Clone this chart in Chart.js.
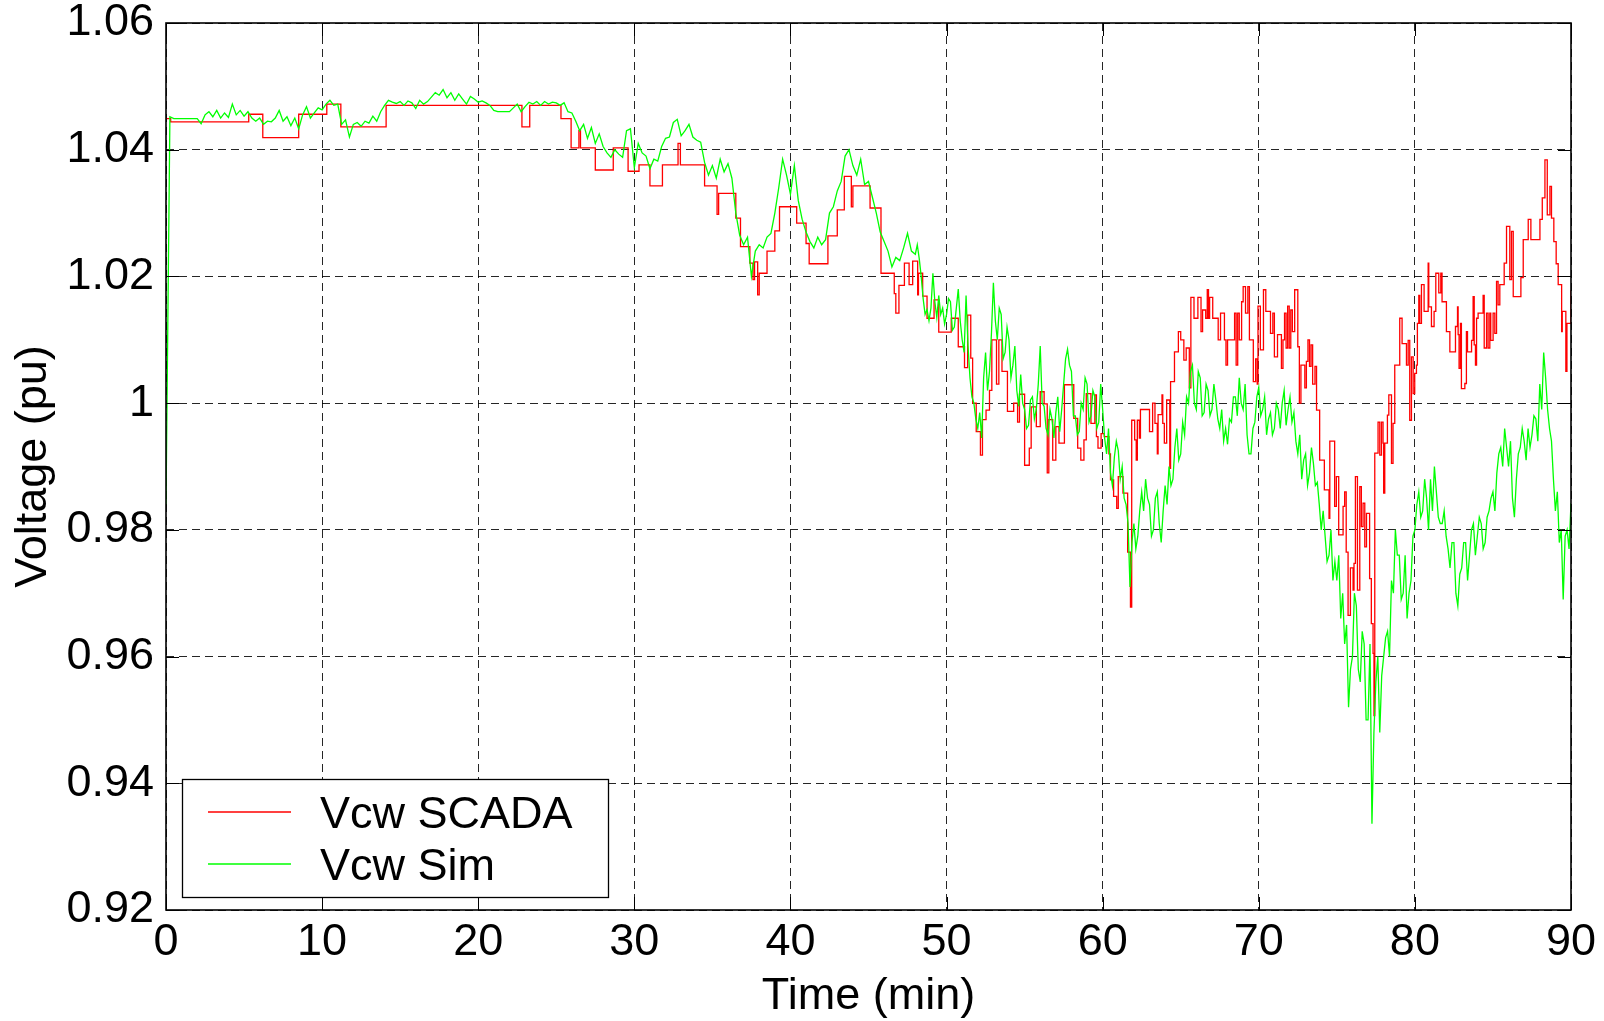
<!DOCTYPE html>
<html>
<head>
<meta charset="utf-8">
<title>Vcw SCADA vs Sim</title>
<script src="https://cdn.jsdelivr.net/npm/chart.js@4.4.0/dist/chart.umd.min.js"></script>
<style>
  html, body { margin: 0; padding: 0; background: #fff; }
  #wrap { width: 1604px; height: 1021px; }
</style>
</head>
<body>
<div id="wrap"><canvas id="voltChart" width="1604" height="1021"></canvas></div>
<script>
// axis ticks
const xTickValues = [0, 10, 20, 30, 40, 50, 60, 70, 80, 90];
const xTickLabels = ['0', '10', '20', '30', '40', '50', '60', '70', '80', '90'];
const yTickValues = [0.92, 0.94, 0.96, 0.98, 1.00, 1.02, 1.04, 1.06];
const yTickLabels = ['0.92', '0.94', '0.96', '0.98', '1', '1.02', '1.04', '1.06'];

const seriesNames = ['Vcw SCADA', 'Vcw Sim'];
const seriesColors = ['#ff0000', '#00ff00'];

// SCADA record: each value is held until the next time stamp (min)
const scadaTime = [
  0, 0.3, 5.3, 6.2, 8.5, 10.3, 11.2, 14.1, 22.8, 23.3, 25.3, 25.95, 26.45, 26.55, 27.5, 28.65, 29.6,
  30.3, 31.0, 31.8, 32.8, 32.95, 34.5, 35.3, 35.4, 36.5, 36.8, 37.4, 37.6, 37.7, 37.9, 38.0, 38.5,
  39.0, 39.3, 40.4, 41.0, 41.2, 42.4, 43.0, 43.45, 43.9, 44.0, 45.1, 45.8, 46.65, 46.75, 46.95,
  47.3, 47.6, 47.83, 48.15, 48.2, 48.47, 48.75, 49.2, 49.5, 50.3, 50.75, 51.15, 51.35, 51.55, 51.67,
  51.9, 52.17, 52.3, 52.53, 52.75, 52.9, 53.2, 53.35, 53.55, 53.9, 54.3, 54.55, 54.67, 55.0, 55.3,
  55.42, 55.75, 56.0, 56.25, 56.45, 56.55, 56.8, 57.0, 57.2, 57.55, 58.15, 58.4, 58.6, 58.8, 58.95,
  59.25, 59.5, 59.6, 59.7, 59.9, 60.1, 60.4, 60.5, 60.7, 60.9, 61.0, 61.3, 61.6, 61.78, 61.86,
  62.05, 62.15, 62.22, 62.35, 62.42, 63.0, 63.2, 63.35, 63.5, 63.55, 63.8, 63.85, 63.95, 64.1, 64.3,
  64.35, 64.6, 64.85, 65.0, 65.2, 65.35, 65.55, 65.65, 65.85, 66.1, 66.3, 66.4, 66.6, 66.7, 66.78,
  66.85, 67.05, 67.4, 67.55, 67.8, 67.9, 68.0, 68.45, 68.55, 68.65, 68.75, 68.9, 69.0, 69.15, 69.3,
  69.4, 69.65, 69.8, 69.9, 69.95, 70.1, 70.3, 70.45, 70.75, 70.9, 71.0, 71.2, 71.45, 71.55, 71.65,
  71.75, 71.85, 71.95, 72.05, 72.15, 72.3, 72.5, 72.6, 72.7, 72.95, 73.05, 73.15, 73.25, 73.35,
  73.45, 73.6, 73.7, 73.9, 74.2, 74.5, 74.55, 74.86, 74.97, 75.12, 75.4, 75.5, 75.6, 75.72, 75.87,
  76.04, 76.1, 76.19, 76.32, 76.47, 76.57, 76.68, 76.79, 76.9, 77.1, 77.21, 77.32, 77.38, 77.43,
  77.64, 77.75, 77.86, 77.96, 78.0, 78.07, 78.24, 78.33, 78.5, 78.6, 78.71, 79.03, 79.18, 79.46,
  79.57, 79.67, 79.78, 79.89, 79.99, 80.1, 80.16, 80.25, 80.31, 80.42, 80.59, 80.85, 80.89, 81.06,
  81.23, 81.34, 81.53, 81.66, 81.74, 82.02, 82.24, 82.6, 82.73, 82.77, 82.83, 82.92, 82.98, 83.2,
  83.3, 83.37, 83.63, 83.73, 83.8, 83.88, 83.95, 84.05, 84.37, 84.44, 84.59, 84.69, 84.8, 84.86,
  85.01, 85.12, 85.23, 85.33, 85.44, 85.72, 85.87, 86.08, 86.19, 86.3, 86.79, 86.94, 87.26, 87.43,
  88.01, 88.16, 88.33, 88.48, 88.65, 88.75, 88.9, 89.05, 89.18, 89.4, 89.44, 89.67, 89.74, 90.0
];
const scadaVolt = [
  1.0449, 1.0444, 1.0456, 1.0419, 1.0456, 1.0472, 1.0436, 1.0470, 1.0436, 1.0470, 1.0449, 1.0403, 1.0430, 1.0403, 1.0368, 1.0403, 1.0366,
  1.0376, 1.0343, 1.0376, 1.0410, 1.0376, 1.0343, 1.0298, 1.0331, 1.0292, 1.0247, 1.0221, 1.0195, 1.0223, 1.0171, 1.0205, 1.0240,
  1.0272, 1.0310, 1.0284, 1.0252, 1.0220, 1.0264, 1.0305, 1.0358, 1.0310, 1.0343, 1.0308, 1.0205, 1.0173, 1.0142, 1.0186,
  1.0221, 1.0187, 1.0224, 1.0171, 1.0205, 1.0169, 1.0134, 1.0163, 1.0112, 1.0134, 1.0089, 1.0056, 1.0139, 1.0071, 1.0000,
  0.9955, 0.9918, 0.9974, 0.9989, 1.0020, 1.0100, 1.0030, 1.0100, 1.0050, 0.9987, 1.0000, 0.9970, 1.0014, 0.9902, 0.9929,
  0.9994, 0.9963, 1.0018, 0.9999, 0.9890, 0.9974, 0.9910, 0.9963, 0.9937, 1.0029, 0.9976, 0.9929, 0.9910, 0.9942, 1.0015,
  0.9968, 1.0013, 0.9947, 0.9929, 0.9952, 0.9947, 0.9920, 0.9879, 0.9853, 0.9834, 0.9884, 0.9858, 0.9765, 0.9678, 0.9973,
  0.9942, 0.9910, 0.9973, 0.9945, 0.9990, 0.9955, 1.0000, 0.9968, 0.9920, 0.9982, 1.0013, 0.9968, 0.9937, 1.0005, 0.9897,
  1.0034, 1.0081, 1.0113, 1.0100, 1.0068, 1.0087, 1.0024, 1.0167, 1.0134, 1.0167, 1.0113, 1.0147, 1.0134, 1.0179, 1.0134,
  1.0167, 1.0134, 1.0100, 1.0142, 1.0100, 1.0060, 1.0100, 1.0142, 1.0060, 1.0142, 1.0100, 1.0160, 1.0184, 1.0142, 1.0184,
  1.0100, 1.0034, 1.0070, 1.0030, 1.0153, 1.0084, 1.0179, 1.0145, 1.0110, 1.0142, 1.0073, 1.0108, 1.0055, 1.0100, 1.0142,
  1.0087, 1.0153, 1.0087, 1.0147, 1.0113, 1.0179, 1.0089, 1.0000, 1.0060, 1.0024, 1.0066, 1.0100, 1.0058, 1.0092,
  1.0030, 1.0058, 0.9989, 0.9910, 0.9863, 0.9818, 0.9940, 0.9837, 0.9884, 0.9792, 0.9837, 0.9860, 0.9765, 0.9665, 0.9740,
  0.9705, 0.9747, 0.9884, 0.9705, 0.9868, 0.9805, 0.9842, 0.9773, 0.9826, 0.9723, 0.9652, 0.9605, 0.9507, 0.9921,
  0.9970, 0.9918, 0.9970, 0.9937, 0.9858, 0.9937, 0.9981, 1.0013, 0.9905, 0.9968, 1.0060, 1.0134, 1.0094, 1.0060,
  1.0099, 0.9973, 1.0073, 1.0015, 1.0047, 1.0060, 1.0126, 1.0170, 1.0126, 1.0187, 1.0145, 1.0221, 1.0152, 1.0121,
  1.0145, 1.0205, 1.0174, 1.0205, 1.0160, 1.0113, 1.0081, 1.0121, 1.0152, 1.0108, 1.0055, 1.0126, 1.0023, 1.0031,
  1.0113, 1.0081, 1.0099, 1.0168, 1.0092, 1.0060, 1.0134, 1.0142, 1.0170, 1.0087, 1.0142, 1.0087, 1.0142, 1.0099,
  1.0142, 1.0110, 1.0192, 1.0155, 1.0187, 1.0221, 1.0279, 1.0195, 1.0271, 1.0168, 1.0198, 1.0258, 1.0290, 1.0258,
  1.0290, 1.0324, 1.0384, 1.0297, 1.0342, 1.0292, 1.0255, 1.0220, 1.0187, 1.0113, 1.0145, 1.0050, 1.0126, 1.0178
];

// simulation output, part 1: one sample every 0.25 min from t = 0 (4 per row = 1 min)
const simStartA = 0;
const simStepA = 0.25;
const simVoltA = [
  0.9840, 1.0452, 1.0449, 1.0449,   1.0449, 1.0449, 1.0449, 1.0449,
  1.0449, 1.0441, 1.0455, 1.0460,   1.0452, 1.0462, 1.0450, 1.0458,
  1.0451, 1.0472, 1.0455, 1.0462,   1.0453, 1.0460, 1.0450, 1.0445,
  1.0450, 1.0440, 1.0445, 1.0444,   1.0450, 1.0462, 1.0445, 1.0452,
  1.0438, 1.0450, 1.0433, 1.0455,   1.0468, 1.0450, 1.0458, 1.0466,
  1.0463, 1.0472, 1.0478, 1.0470,   1.0472, 1.0440, 1.0447, 1.0420,
  1.0440, 1.0443, 1.0437, 1.0445,   1.0442, 1.0453, 1.0445, 1.0460,
  1.0470, 1.0478, 1.0475, 1.0473,   1.0476, 1.0470, 1.0477, 1.0474,
  1.0465, 1.0478, 1.0472, 1.0476,   1.0483, 1.0490, 1.0486, 1.0495,
  1.0482, 1.0490, 1.0478, 1.0488,   1.0480, 1.0472, 1.0484, 1.0480,
  1.0475, 1.0477, 1.0474, 1.0470,   1.0462, 1.0460, 1.0460, 1.0460,
  1.0460, 1.0466, 1.0472, 1.0460,   1.0468, 1.0475, 1.0472, 1.0476,
  1.0470, 1.0476, 1.0472, 1.0475,   1.0474, 1.0470, 1.0474, 1.0460,
  1.0458, 1.0445, 1.0430, 1.0440,   1.0418, 1.0435, 1.0410, 1.0425,
  1.0405, 1.0395, 1.0388, 1.0400,   1.0393, 1.0388, 1.0430, 1.0433,
  1.0372, 1.0410, 1.0395, 1.0390,   1.0370, 1.0385, 1.0382, 1.0405,
  1.0418, 1.0420, 1.0443, 1.0448,   1.0422, 1.0430, 1.0440, 1.0420,
  1.0415, 1.0412, 1.0380, 1.0360,   1.0375, 1.0355, 1.0385, 1.0365,
  1.0378, 1.0355, 1.0300, 1.0265,   1.0250, 1.0262, 1.0200, 1.0240,
  1.0250, 1.0245, 1.0262, 1.0268,   1.0300, 1.0340, 1.0385, 1.0360,
  1.0330, 1.0375, 1.0320, 1.0290,   1.0270, 1.0255, 1.0245, 1.0262,
  1.0250, 1.0258, 1.0300, 1.0310,   1.0335, 1.0350, 1.0390, 1.0400,
  1.0375, 1.0360, 1.0385, 1.0345,   1.0350, 1.0325, 1.0300, 1.0270,
  1.0255, 1.0240, 1.0215, 1.0230,   1.0225, 1.0245, 1.0268, 1.0240
];

// simulation output, part 2: one sample every 0.125 min from t = 48 (8 per row = 1 min)
const simStartB = 48;
const simStepB = 0.125;
const simVoltB = [
  1.0235, 1.0250, 1.0228, 1.0200, 1.0165, 1.0140, 1.0148, 1.0130,
  1.0150, 1.0205, 1.0160, 1.0135, 1.0170, 1.0140, 1.0150, 1.0125,
  1.0140, 1.0165, 1.0160, 1.0115, 1.0120, 1.0150, 1.0180, 1.0130,
  1.0100, 1.0080, 1.0170, 1.0090, 1.0040, 1.0010, 1.0000, 0.9975,
  0.9960, 0.9985, 0.9945, 1.0040, 1.0080, 1.0020, 1.0050, 1.0110,
  1.0190, 1.0130, 1.0100, 1.0150, 1.0140, 1.0070, 1.0080, 1.0120,
  1.0100, 1.0040, 1.0060, 1.0090, 1.0020, 0.9995, 1.0045, 1.0000,
  0.9990, 0.9960, 0.9965, 1.0005, 1.0010, 0.9975, 0.9990, 1.0030,
  1.0090, 1.0000, 0.9995, 0.9960, 0.9950, 0.9990, 0.9975, 0.9945,
  0.9985, 1.0010, 0.9955, 0.9990, 1.0030, 1.0070, 1.0085, 1.0060,
  1.0050, 0.9980, 0.9980, 0.9950, 0.9955, 1.0000, 0.9990, 1.0040,
  1.0030, 0.9970, 0.9980, 1.0020, 1.0010, 0.9960, 0.9970, 1.0030,
  0.9990, 0.9945, 0.9920, 0.9960, 0.9890, 0.9870, 0.9915, 0.9940,
  0.9925, 0.9880, 0.9900, 0.9850, 0.9840, 0.9810, 0.9710, 0.9780,
  0.9810, 0.9770, 0.9790, 0.9830, 0.9860, 0.9830, 0.9880, 0.9850,
  0.9840, 0.9790, 0.9800, 0.9850, 0.9860, 0.9810, 0.9780, 0.9830,
  0.9870, 0.9840, 0.9900, 0.9870, 0.9880, 0.9930, 0.9960, 0.9910,
  0.9920, 0.9970, 0.9950, 1.0010, 1.0000, 1.0050, 1.0060, 1.0000,
  0.9990, 1.0050, 1.0040, 0.9980, 0.9985, 1.0030, 1.0020, 0.9980,
  0.9990, 1.0030, 1.0005, 0.9975, 0.9960, 0.9990, 0.9940, 0.9960,
  0.9935, 0.9975, 0.9970, 1.0010, 1.0010, 0.9980, 1.0040, 1.0000,
  0.9990, 1.0030, 0.9950, 0.9920, 0.9920, 0.9960, 0.9970, 1.0010,
  1.0025, 0.9980, 0.9990, 1.0010, 0.9950, 0.9975, 0.9985, 0.9950,
  0.9960, 1.0000, 0.9990, 0.9960, 1.0000, 1.0020, 0.9965, 0.9990,
  1.0010, 0.9970, 0.9985, 0.9940, 0.9920, 0.9950, 0.9880, 0.9910,
  0.9920, 0.9870, 0.9890, 0.9930, 0.9905, 0.9870, 0.9875, 0.9840,
  0.9800, 0.9830, 0.9790, 0.9750, 0.9760, 0.9800, 0.9720, 0.9750,
  0.9720, 0.9760, 0.9660, 0.9700, 0.9620, 0.9650, 0.9520, 0.9580,
  0.9600, 0.9700, 0.9680, 0.9580, 0.9560, 0.9640, 0.9620, 0.9500,
  0.9500, 0.9620, 0.9336, 0.9480, 0.9560, 0.9600, 0.9480, 0.9570,
  0.9600, 0.9630, 0.9640, 0.9600, 0.9720, 0.9700, 0.9800, 0.9760,
  0.9760, 0.9690, 0.9700, 0.9760, 0.9660, 0.9700, 0.9720, 0.9790,
  0.9800, 0.9840, 0.9860, 0.9820, 0.9830, 0.9880, 0.9850, 0.9800,
  0.9880, 0.9830, 0.9900, 0.9860, 0.9820, 0.9810, 0.9810, 0.9830,
  0.9790, 0.9770, 0.9740, 0.9780, 0.9780, 0.9700, 0.9680, 0.9730,
  0.9740, 0.9780, 0.9780, 0.9720, 0.9760, 0.9800, 0.9810, 0.9760,
  0.9790, 0.9820, 0.9810, 0.9770, 0.9780, 0.9820, 0.9830, 0.9850,
  0.9860, 0.9830, 0.9890, 0.9920, 0.9930, 0.9900, 0.9960, 0.9930,
  0.9900, 0.9940, 0.9850, 0.9820, 0.9880, 0.9920, 0.9930, 0.9960,
  0.9940, 0.9910, 0.9960, 0.9930, 0.9950, 0.9980, 0.9975, 0.9940,
  1.0030, 0.9990, 1.0080, 1.0040, 0.9990, 0.9960, 0.9940, 0.9880,
  0.9830, 0.9860, 0.9780, 0.9800, 0.9690, 0.9790, 0.9800, 0.9770,
  0.9842
];

const FONT = "'Liberation Sans', Arial, Helvetica, sans-serif";

// MATLAB-style box, inward ticks and the legend box in the lower left
const matlabFrame = {
  id: 'matlabFrame',
  afterDatasetsDraw(chart) {
    const { ctx, chartArea: a, scales } = chart;
    const tl = 13;
    ctx.save();
    ctx.strokeStyle = '#000';
    ctx.lineWidth = 1;
    ctx.beginPath();
    xTickValues.forEach(v => {
      const px = Math.round(scales.x.getPixelForValue(v)) + 0.5;
      ctx.moveTo(px, a.bottom); ctx.lineTo(px, a.bottom - tl);
      ctx.moveTo(px, a.top); ctx.lineTo(px, a.top + tl);
    });
    yTickValues.forEach(v => {
      const py = Math.round(scales.y.getPixelForValue(v)) + 0.5;
      ctx.moveTo(a.left, py); ctx.lineTo(a.left + tl, py);
      ctx.moveTo(a.right, py); ctx.lineTo(a.right - tl, py);
    });
    ctx.stroke();
    ctx.lineWidth = 1.6;
    ctx.strokeRect(a.left, a.top, a.right - a.left, a.bottom - a.top);
    ctx.restore();
  },
  afterDraw(chart) {
    const { ctx, chartArea: a } = chart;
    const bx = a.left + 16, by = a.bottom - 131, bw = 426, bh = 118;
    ctx.save();
    ctx.fillStyle = '#fff';
    ctx.fillRect(bx, by, bw, bh);
    ctx.strokeStyle = '#000';
    ctx.lineWidth = 1.3;
    ctx.strokeRect(bx + 0.5, by + 0.5, bw, bh);
    ctx.font = '45px ' + FONT;
    ctx.textBaseline = 'alphabetic';
    ctx.fillStyle = '#000';
    seriesNames.forEach((name, i) => {
      const ly = by + 33 + i * 52;
      ctx.strokeStyle = seriesColors[i];
      ctx.lineWidth = 1.3;
      ctx.beginPath();
      ctx.moveTo(bx + 26, ly);
      ctx.lineTo(bx + 109, ly);
      ctx.stroke();
      ctx.fillText(name, bx + 138, ly + 16);
    });
    ctx.restore();
  }
};

const scadaPoints = scadaTime.map((t, i) => ({ x: t, y: scadaVolt[i] }));
const simPoints = simVoltA.map((v, i) => ({ x: simStartA + i * simStepA, y: v }))
  .concat(simVoltB.map((v, i) => ({ x: simStartB + i * simStepB, y: v })));

new Chart(document.getElementById('voltChart'), {
  type: 'line',
  data: {
    datasets: [
      {
        label: seriesNames[0],
        data: scadaPoints,
        borderColor: seriesColors[0],
        borderWidth: 1.3,
        pointRadius: 0,
        stepped: true,
        order: 2
      },
      {
        label: seriesNames[1],
        data: simPoints,
        borderColor: seriesColors[1],
        borderWidth: 1.3,
        pointRadius: 0,
        tension: 0,
        order: 1
      }
    ]
  },
  options: {
    responsive: false,
    animation: false,
    devicePixelRatio: 1,
    layout: { padding: { top: 23, right: 33, bottom: 0, left: 0 } },
    plugins: {
      legend: { display: false },
      tooltip: { enabled: false }
    },
    scales: {
      x: {
        type: 'linear',
        min: 0,
        max: 90,
        afterBuildTicks: axis => { axis.ticks = xTickValues.map(v => ({ value: v })); },
        afterFit: axis => {
          axis.height = 111;
          axis.paddingLeft = 0;
          axis.paddingRight = 0;
        },
        ticks: {
          callback: (v, i) => xTickLabels[i],
          color: '#000',
          padding: 10,
          maxRotation: 0,
          font: { family: FONT, size: 45, lineHeight: 1 }
        },
        grid: { color: 'rgba(0,0,0,0.85)', lineWidth: 1, drawTicks: false },
        border: { display: false, dash: [8, 5] },
        title: {
          display: true,
          text: 'Time (min)',
          color: '#000',
          padding: { top: 0, bottom: 2 },
          font: { family: FONT, size: 45, lineHeight: 1 }
        }
      },
      y: {
        type: 'linear',
        min: 0.92,
        max: 1.06,
        afterBuildTicks: axis => { axis.ticks = yTickValues.map(v => ({ value: v })); },
        afterFit: axis => {
          axis.width = 166;
          axis.paddingTop = 0;
          axis.paddingBottom = 0;
        },
        ticks: {
          callback: (v, i) => yTickLabels[i],
          color: '#000',
          padding: 12,
          font: { family: FONT, size: 45, lineHeight: 1 }
        },
        grid: { color: 'rgba(0,0,0,0.85)', lineWidth: 1, drawTicks: false },
        border: { display: false, dash: [8, 5] },
        title: {
          display: true,
          text: 'Voltage (pu)',
          color: '#000',
          padding: { top: 7, bottom: 0 },
          font: { family: FONT, size: 45 }
        }
      }
    }
  },
  plugins: [matlabFrame]
});
</script>
</body>
</html>
